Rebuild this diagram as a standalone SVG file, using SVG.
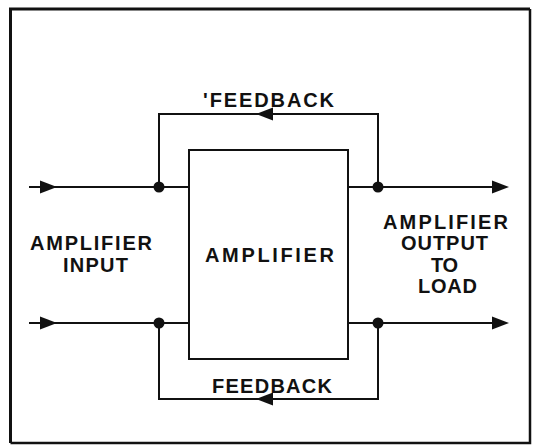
<svg xmlns="http://www.w3.org/2000/svg" width="536" height="445" viewBox="0 0 536 445">
<style>
.w{fill:none;stroke:#111;stroke-width:2;stroke-linecap:square}
.h{fill:#111}
.t{font-family:"Liberation Sans",Arial,sans-serif;font-weight:bold;font-size:20px;fill:#111}
</style>
<rect width="536" height="445" fill="#fff"/>
<g id="frame">
<path d="M10.5 443 V9 H530" fill="none" stroke="#111" stroke-width="3"/>
<path d="M530 9 V443 H10.5" fill="none" stroke="#111" stroke-width="2.5"/>
</g>
<g id="connectors">
<path class="w" d="M30 187 H189"/>
<polygon class="h" points="40,180.5 57,187 40,193.5"/>
<path class="w" d="M30 323 H189"/>
<polygon class="h" points="40,316.5 57,323 40,329.5"/>
<path class="w" d="M348 187 H500"/>
<polygon class="h" points="492,180.5 509,187 492,193.5"/>
<path class="w" d="M348 323 H500"/>
<polygon class="h" points="492,316.5 509,323 492,329.5"/>
<path class="w" d="M159 187 V114 H378 V187"/>
<polygon class="h" points="256,114 273,107.5 273,120.5"/>
<path class="w" d="M159 323 V399 H378 V323"/>
<polygon class="h" points="256,399 273,392.5 273,405.5"/>
<circle class="h" cx="159" cy="187" r="5.5"/>
<circle class="h" cx="378" cy="187" r="5.5"/>
<circle class="h" cx="159" cy="323" r="5.5"/>
<circle class="h" cx="378" cy="323" r="5.5"/>
</g>
<g id="amplifier">
<rect x="189" y="150" width="159" height="209" fill="none" stroke="#111" stroke-width="2"/>
<text class="t" x="205" y="262" textLength="129" lengthAdjust="spacing">AMPLIFIER</text>
</g>
<g id="input-label">
<text class="t" x="30" y="250" textLength="122" lengthAdjust="spacing">AMPLIFIER</text>
<text class="t" x="63" y="272" textLength="65" lengthAdjust="spacing">INPUT</text>
</g>
<g id="output-label">
<text class="t" x="383" y="229" textLength="125" lengthAdjust="spacing">AMPLIFIER</text>
<text class="t" x="401" y="250" textLength="87" lengthAdjust="spacing">OUTPUT</text>
<text class="t" x="431" y="272" textLength="27" lengthAdjust="spacing">TO</text>
<text class="t" x="418" y="293" textLength="59" lengthAdjust="spacing">LOAD</text>
</g>
<g id="feedback-top">
<text class="t" x="203" y="107" textLength="131" lengthAdjust="spacing">'FEEDBACK</text>
</g>
<g id="feedback-bottom">
<text class="t" x="212" y="393" textLength="120" lengthAdjust="spacing">FEEDBACK</text>
</g>
</svg>
